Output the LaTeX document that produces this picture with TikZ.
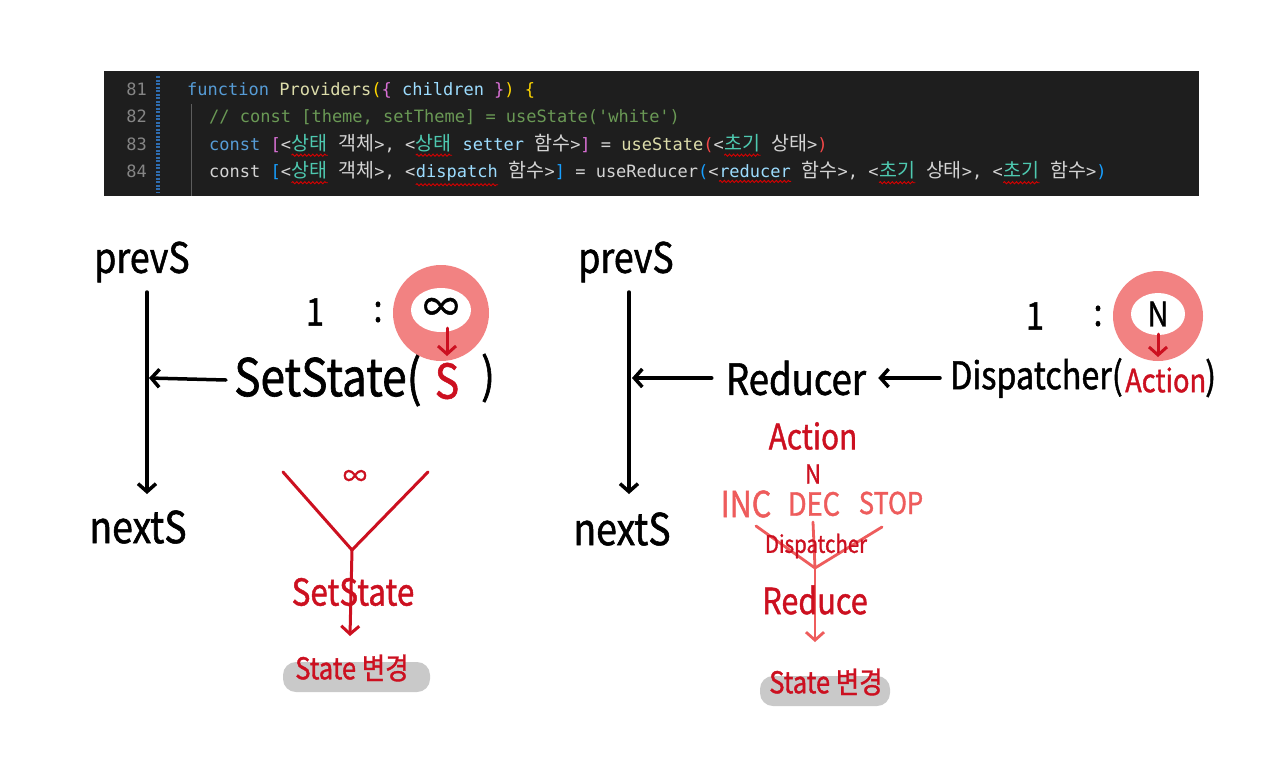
\documentclass[tikz,border=0pt]{standalone}
\usepackage{fontspec}
\setmonofont{DejaVu Sans Mono}
\newfontfamily\krfont{Noto Sans CJK KR}
\newfontfamily\handfont{Noto Sans CJK KR}[FakeStretch=0.85,FakeBold=1.2]
\usetikzlibrary{arrows.meta,decorations.pathmorphing}

\definecolor{cBg}{HTML}{1E1E1E}
\definecolor{cNum}{HTML}{858585}
\definecolor{cTx}{HTML}{D4D4D4}
\definecolor{cKw}{HTML}{569CD6}
\definecolor{cFn}{HTML}{DCDCAA}
\definecolor{cVar}{HTML}{9CDCFE}
\definecolor{cCm}{HTML}{6A9955}
\definecolor{cTy}{HTML}{4EC9B0}
\definecolor{cBrY}{HTML}{FFD700}
\definecolor{cBrP}{HTML}{DA70D6}
\definecolor{cBrB}{HTML}{179FFF}
\definecolor{cBrR}{HTML}{F44747}
\definecolor{cGut}{HTML}{2F6DB0}
\definecolor{cRed}{HTML}{CC1020}
\definecolor{cPink}{HTML}{EE5C5C}
\definecolor{cRing}{HTML}{F28282}
\definecolor{cHi}{HTML}{C9C9C9}

\newcommand{\kr}[1]{{\krfont\fontsize{19.5}{20}\selectfont #1}}
\newcommand{\tok}[2]{\textcolor{#1}{#2}}
\newcommand{\wavy}[1]{\tikz[baseline=(sq.base)]{\node[inner sep=0pt] (sq) {#1};
  \draw[red!85!black,line width=0.9pt,decorate,decoration={snake,amplitude=1.1pt,segment length=4pt}]
    ([yshift=-3.5pt]sq.south west) -- ([yshift=-3.5pt]sq.south east);}}

\tikzset{
  codeline/.style={anchor=base west,inner sep=0pt,text=cTx,font=\ttfamily\fontsize{17}{20}\selectfont},
  lineno/.style={anchor=base east,inner sep=0pt,text=cNum,font=\ttfamily\fontsize{17}{20}\selectfont},
  hand/.style={inner sep=0pt,font=\handfont\fontsize{#1}{#1}\selectfont},
  ink/.style={line width=3.5pt,black,line cap=round},
  redink/.style={line width=3pt,cRed,line cap=round},
  pinkink/.style={line width=2.8pt,cPink,line cap=round},
}

\begin{document}
\begin{tikzpicture}[x=1pt,y=-1pt,>={Straight Barb[length=8pt,width=18pt]}]
\fill[white] (0,0) rectangle (1288,772);
\useasboundingbox (0,0) rectangle (1288,772);
% code editor
\fill[cBg] (104,71) rectangle (1199,196);
\draw[cGut,line width=3.5pt,dash pattern=on 2pt off 1.5pt] (158,76) -- (158,192);
\draw[cNum!70!black,line width=0.6pt] (191,104) -- (191,196);
\node[lineno] (n81) at (147,95) {81};
\node[lineno] (n82) at (147,122.5) {82};
\node[lineno] (n83) at (147,150) {83};
\node[lineno] (n84) at (147,177.5) {84};
\node[codeline] (c81) at (187,95) {\tok{cKw}{function} \tok{cFn}{Providers}\tok{cBrY}{(}\tok{cBrP}{\{} \tok{cVar}{children} \tok{cBrP}{\}}\tok{cBrY}{)} \tok{cBrY}{\{}};
\node[codeline] (c82) at (209,122.5) {\tok{cCm}{// const [theme, setTheme] = useState('white')}};
\node[codeline] (c83) at (209,150) {\tok{cKw}{const} \tok{cBrP}{[}<\wavy{\tok{cTy}{\kr{상태}}} \kr{객체}>, <\wavy{\tok{cTy}{\kr{상태}}} \tok{cVar}{setter} \kr{함수}>\tok{cBrP}{]} = \tok{cFn}{useState}\tok{cBrR}{(}<\wavy{\tok{cTy}{\kr{초기}}} \kr{상태}>\tok{cBrR}{)}};
\node[codeline] (c84) at (209,177.5) {const \tok{cBrB}{[}<\wavy{\tok{cTy}{\kr{상태}}} \kr{객체}>, <\wavy{\tok{cVar}{dispatch}} \kr{함수}>\tok{cBrB}{]} = useReducer\tok{cBrB}{(}<\wavy{\tok{cVar}{reducer}} \kr{함수}>, <\wavy{\tok{cTy}{\kr{초기}}} \kr{상태}>, <\wavy{\tok{cTy}{\kr{초기}}} \kr{함수}>\tok{cBrB}{)}};

% left: useState
\node[hand=42] (prevL) at (142,262) {prevS};
\node[hand=44] (nextL) at (138,527) {nextS};
\draw[ink,->] (147,292) -- (147,494);
\coordinate (hitL) at (149,378);
\node[hand=52,anchor=west] (setL) at (234,380) {SetState(};
\node[hand=48,text=cRed] (sL) at (447,381) {S};
\node[hand=48] (parL) at (488,378) {)};
\draw[ink,->] ([xshift=-8pt]setL.west) -- (hitL);
\node[hand=38] (oneL) at (315,312) {1};
\node[hand=38] (colL) at (378,312) {:};
\fill[cRing] (441,313) circle (48);
\fill[white] (441,310) ellipse [x radius=30,y radius=22];
\node[hand=42] (infL) at (441,310) {∞};
\draw[redink,->] (447,328) -- (447,356);
% left: red tree
\coordinate (ylL) at (283,472);
\coordinate (yrL) at (428,472);
\coordinate (yjL) at (352,550);
\coordinate (tipL) at (350,636);
\node[hand=28,text=cRed] (infY) at (355,478) {∞};
\draw[redink] (ylL) -- (yjL) -- (yrL);
\draw[redink,->] (yjL) -- (tipL);
\node[hand=37,text=cRed] (setY) at (353,592) {SetState};
\fill[cHi,rounded corners=13] (283,662) rectangle (430,692);
\node[hand=30,text=cRed] (chgL) at (352,668) {State 변경};

% right: useReducer
\node[hand=42] (prevR) at (626,262) {prevS};
\node[hand=44] (nextR) at (622,529) {nextS};
\draw[ink,->] (629,292) -- (629,494);
\coordinate (hitR) at (632,378);
\node[hand=43] (redR) at (796,378) {Reducer};
\draw[ink,->] ([xshift=-14pt]redR.west) -- (hitR);
\node[hand=38,anchor=west] (dispR) at (950,378) {Dispatcher(};
\node[hand=32,text=cRed,anchor=west] (actR) at (1125,380) {Action};
\node[hand=38,anchor=west] (parR) at (1205,378) {)};
\draw[ink,->] ([xshift=-10pt]dispR.west) -- ([xshift=12pt]redR.east);
\node[hand=38] (oneR) at (1035,316) {1};
\node[hand=38] (colR) at (1098,316) {:};
\fill[cRing] (1158,316) circle (45);
\fill[white] (1158,314) ellipse [x radius=27,y radius=21];
\node[hand=34] (nR) at (1158,314) {N};
\draw[redink,->] (1158,334) -- (1158,357);
% right: red tree
\node[hand=35,text=cRed] (actY) at (813,436) {Action};
\node[hand=26,text=cRed] (nY) at (813,474) {N};
\node[hand=36,text=cPink] (incY) at (746,504) {INC};
\node[hand=32,text=cPink] (decY) at (814,504) {DEC};
\node[hand=30,text=cPink] (stopY) at (891,503) {STOP};
\coordinate (ylR) at (756,526);
\coordinate (yrR) at (882,527);
\coordinate (ytR) at (813,522);
\coordinate (yjR) at (815,568);
\coordinate (tipR) at (815,642);
\draw[pinkink] (ylR) -- (yjR) -- (yrR);
\draw[pinkink] (ytR) -- (yjR);
\draw[pinkink,->] (yjR) -- (tipR);
\node[hand=24,text=cRed] (dspY) at (816,546) {Dispatcher};
\node[hand=36,text=cRed] (rdcY) at (815,600) {Reduce};
\fill[cHi,rounded corners=13] (760,676) rectangle (890,706);
\node[hand=30,text=cRed] (chgR) at (826,682) {State 변경};
\end{tikzpicture}
\end{document}
